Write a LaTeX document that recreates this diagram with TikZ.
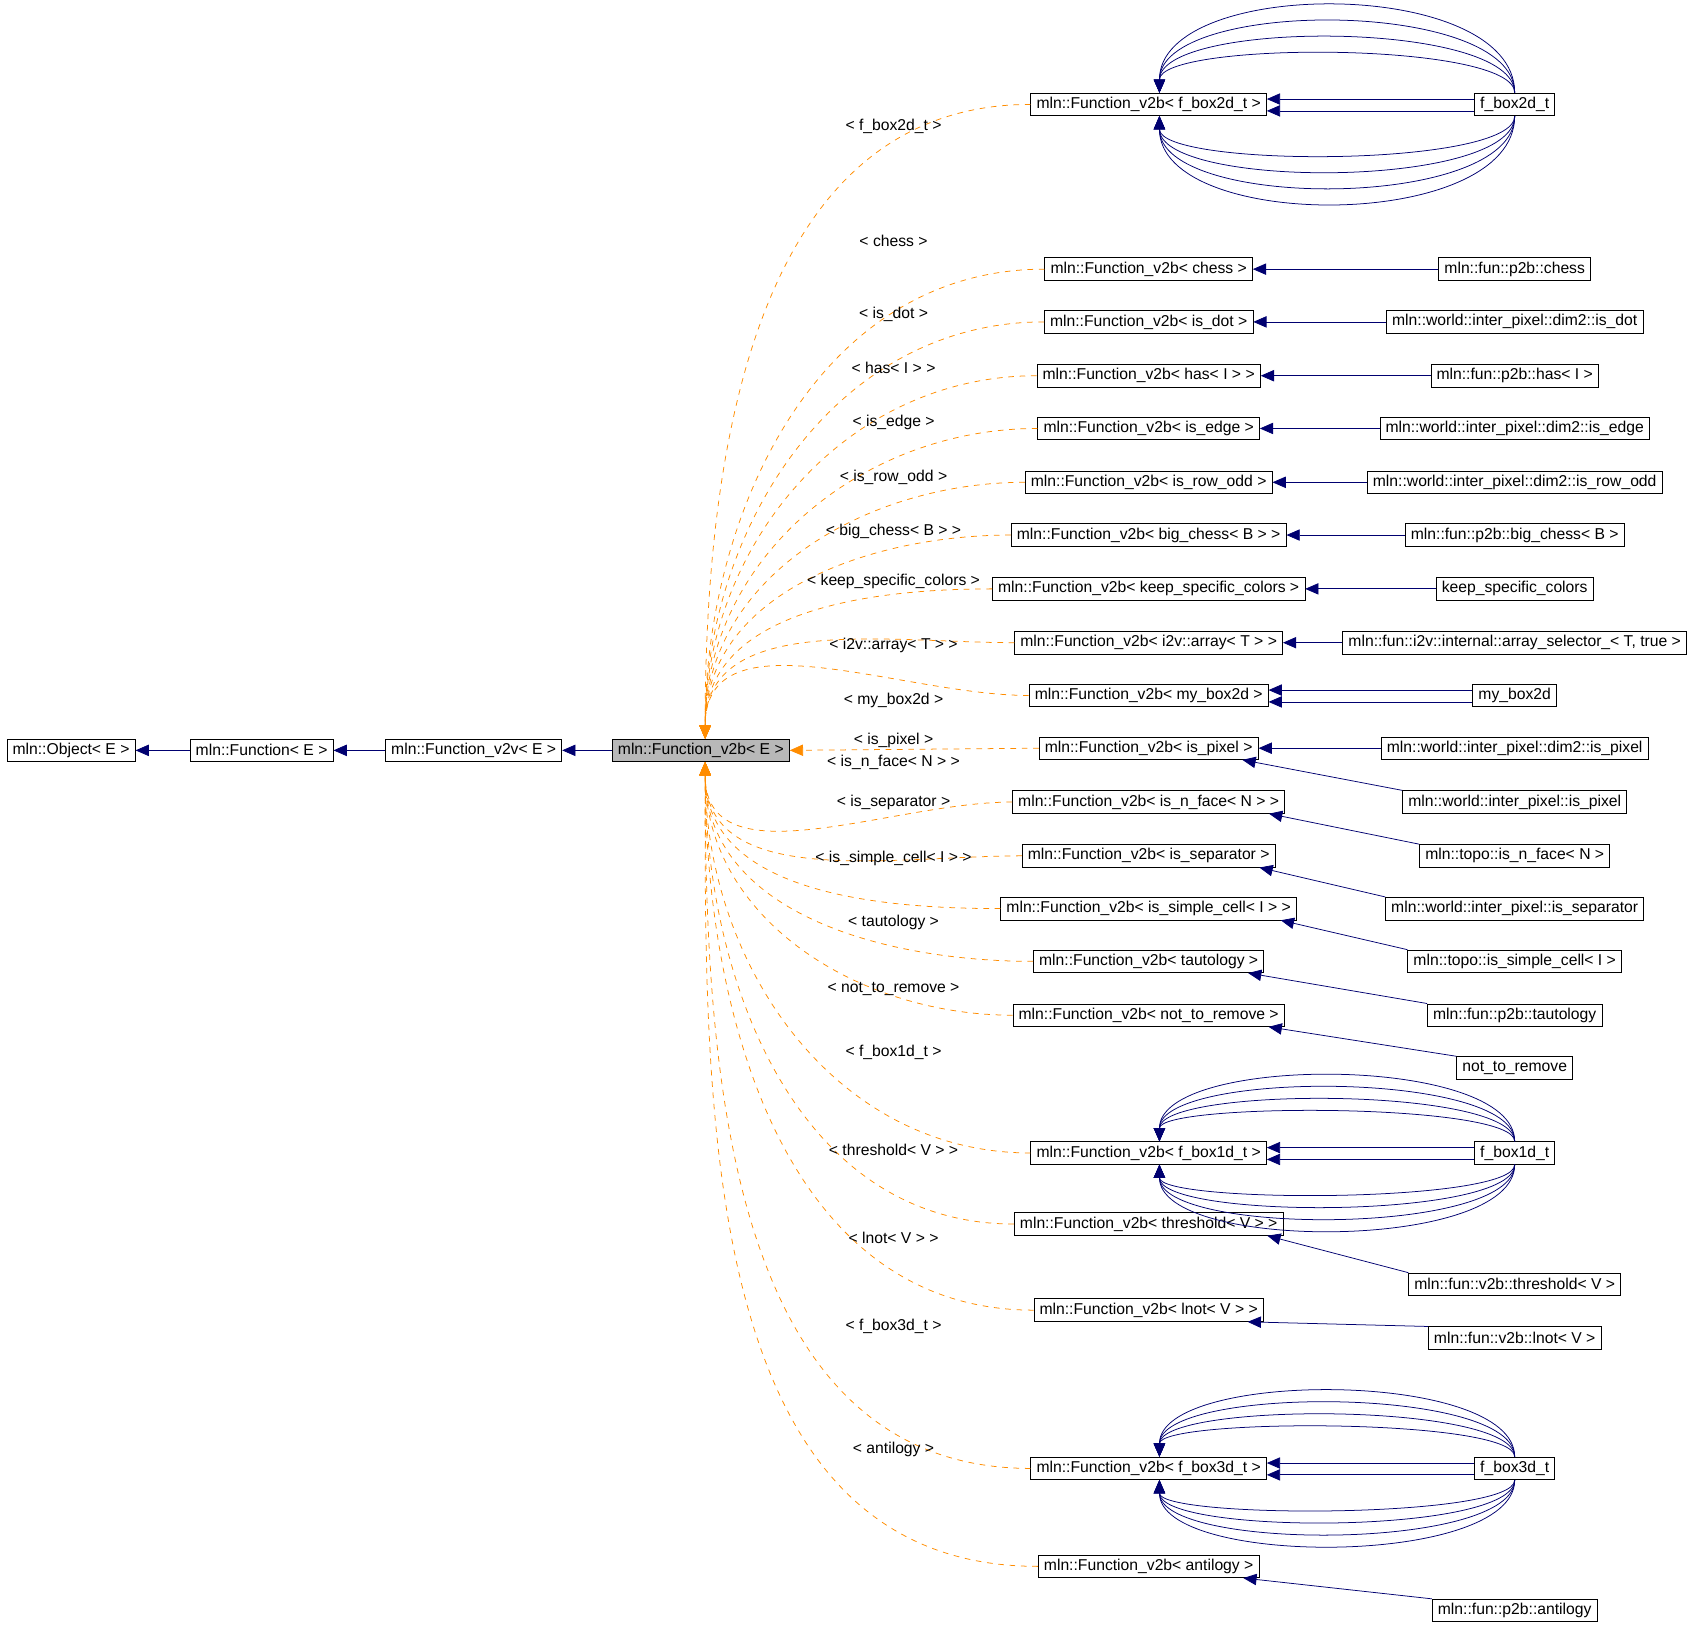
\documentclass[tikz,border=0pt]{standalone}
\usepackage{fontspec}
\setmainfont{Liberation Sans}
\usetikzlibrary{calc, arrows.meta}

\tikzset{
  cls/.style={draw, fill=white, inner xsep=3pt, inner ysep=2pt, minimum height=0.42cm, font=\fontsize{8.3}{9}\selectfont},
  hier/.style={draw=blue!30!black!80!blue, -{Triangle[length=7pt,width=6pt]}},
  dep/.style={draw=orange!90!yellow, dashed, -{Triangle[length=7pt,width=6pt]}},
  lbl/.style={font=\fontsize{8.3}{9}\selectfont}
}

% many parallel/looping edges from a child to its template parent
\newcommand{\multiedge}[3]{
  \draw[hier] ($(#1.west)+(0,-5)$) -- ($(#2.east)+(0,-5)$);
  \draw[hier] ($(#1.west)+(0,6)$) -- ($(#2.east)+(0,6)$);
  \foreach \h in {48,68,88,108} {
    \draw[hier] (#1.north) .. controls ($(#1.north)+(0,-#3*\h)$) and ($(#2.north)+(10,-#3*\h)$) .. ($(#2.north)+(10,0)$);
    \draw[hier] (#1.south) .. controls ($(#1.south)+(0,#3*\h)$) and ($(#2.south)+(10,#3*\h)$) .. ($(#2.south)+(10,0)$);
  }
}

\begin{document}
\begin{tikzpicture}[x=0.02cm, y=-0.02cm]
  \useasboundingbox (0,0) rectangle (1568,1515);

  % left chain
  \node[cls] (obj) at (66,697) {mln::Object< E >};
  \node[cls] (fun) at (243,697) {mln::Function< E >};
  \node[cls] (v2v) at (440,697) {mln::Function\_v2v< E >};
  \node[cls, fill=black!28] (v2b) at (651,697) {mln::Function\_v2b< E >};
  \draw[hier] (fun) -- (obj);
  \draw[hier] (v2v) -- (fun);
  \draw[hier] (v2b) -- (v2v);

  % template instances
  \node[cls] (mBoxTwo)   at (1067,97)   {mln::Function\_v2b< f\_box2d\_t >};
  \node[cls] (mChess)    at (1067,250)  {mln::Function\_v2b< chess >};
  \node[cls] (mDot)      at (1067,299)  {mln::Function\_v2b< is\_dot >};
  \node[cls] (mHas)      at (1067,349)  {mln::Function\_v2b< has< I > >};
  \node[cls] (mEdge)     at (1067,398)  {mln::Function\_v2b< is\_edge >};
  \node[cls] (mRowOdd)   at (1067,448)  {mln::Function\_v2b< is\_row\_odd >};
  \node[cls] (mBigChess) at (1067,497)  {mln::Function\_v2b< big\_chess< B > >};
  \node[cls] (mKeep)     at (1067,547)  {mln::Function\_v2b< keep\_specific\_colors >};
  \node[cls] (mArray)    at (1067,597)  {mln::Function\_v2b< i2v::array< T > >};
  \node[cls] (mMyBox)    at (1067,646)  {mln::Function\_v2b< my\_box2d >};
  \node[cls] (mPixel)    at (1067,695)  {mln::Function\_v2b< is\_pixel >};
  \node[cls] (mNFace)    at (1067,745)  {mln::Function\_v2b< is\_n\_face< N > >};
  \node[cls] (mSep)      at (1067,795)  {mln::Function\_v2b< is\_separator >};
  \node[cls] (mSimple)   at (1067,844)  {mln::Function\_v2b< is\_simple\_cell< I > >};
  \node[cls] (mTauto)    at (1067,893)  {mln::Function\_v2b< tautology >};
  \node[cls] (mNotRem)   at (1067,943)  {mln::Function\_v2b< not\_to\_remove >};
  \node[cls] (mBoxOne)   at (1067,1071) {mln::Function\_v2b< f\_box1d\_t >};
  \node[cls] (mThresh)   at (1067,1137) {mln::Function\_v2b< threshold< V > >};
  \node[cls] (mLnot)     at (1067,1217) {mln::Function\_v2b< lnot< V > >};
  \node[cls] (mBoxThree) at (1067,1364) {mln::Function\_v2b< f\_box3d\_t >};
  \node[cls] (mAnti)     at (1067,1455) {mln::Function\_v2b< antilogy >};

  % concrete classes
  \node[cls] (cBoxTwo)   at (1407,97)   {f\_box2d\_t};
  \node[cls] (cChess)    at (1407,250)  {mln::fun::p2b::chess};
  \node[cls] (cDot)      at (1407,299)  {mln::world::inter\_pixel::dim2::is\_dot};
  \node[cls] (cHas)      at (1407,349)  {mln::fun::p2b::has< I >};
  \node[cls] (cEdge)     at (1407,398)  {mln::world::inter\_pixel::dim2::is\_edge};
  \node[cls] (cRowOdd)   at (1407,448)  {mln::world::inter\_pixel::dim2::is\_row\_odd};
  \node[cls] (cBigChess) at (1407,497)  {mln::fun::p2b::big\_chess< B >};
  \node[cls] (cKeep)     at (1407,547)  {keep\_specific\_colors};
  \node[cls] (cArray)    at (1407,597)  {mln::fun::i2v::internal::array\_selector\_< T, true >};
  \node[cls] (cMyBox)    at (1407,646)  {my\_box2d};
  \node[cls] (cDimPixel) at (1407,695)  {mln::world::inter\_pixel::dim2::is\_pixel};
  \node[cls] (cPixel)    at (1407,745)  {mln::world::inter\_pixel::is\_pixel};
  \node[cls] (cNFace)    at (1407,795)  {mln::topo::is\_n\_face< N >};
  \node[cls] (cSep)      at (1407,844)  {mln::world::inter\_pixel::is\_separator};
  \node[cls] (cSimple)   at (1407,893)  {mln::topo::is\_simple\_cell< I >};
  \node[cls] (cTauto)    at (1407,943)  {mln::fun::p2b::tautology};
  \node[cls] (cNotRem)   at (1407,992)  {not\_to\_remove};
  \node[cls] (cBoxOne)   at (1407,1071) {f\_box1d\_t};
  \node[cls] (cThresh)   at (1407,1193) {mln::fun::v2b::threshold< V >};
  \node[cls] (cLnot)     at (1407,1243) {mln::fun::v2b::lnot< V >};
  \node[cls] (cBoxThree) at (1407,1364) {f\_box3d\_t};
  \node[cls] (cAnti)     at (1407,1496) {mln::fun::p2b::antilogy};

  % inheritance of concrete classes
  \multiedge{cBoxTwo}{mBoxTwo}{1}
  \multiedge{cBoxOne}{mBoxOne}{0.75}
  \multiedge{cBoxThree}{mBoxThree}{0.75}
  \draw[hier] ($(cMyBox.west)+(0,-5)$) -- ($(mMyBox.east)+(0,-5)$);
  \draw[hier] ($(cMyBox.west)+(0,6)$) -- ($(mMyBox.east)+(0,6)$);
  \foreach \c/\m in {cChess/mChess, cDot/mDot, cHas/mHas, cEdge/mEdge, cRowOdd/mRowOdd,
      cBigChess/mBigChess, cKeep/mKeep, cArray/mArray, cDimPixel/mPixel}
    \draw[hier] (\c.west) -- (\m.east);
  \foreach \c/\m in {cPixel/mPixel, cNFace/mNFace, cSep/mSep, cSimple/mSimple, cTauto/mTauto,
      cNotRem/mNotRem, cThresh/mThresh, cLnot/mLnot, cAnti/mAnti}
    \draw[hier] (\c.north west) -- ($(\m.south east)+(-15,0)$);

  % template bindings
  \foreach \m in {mBoxTwo, mChess, mDot, mHas, mEdge, mRowOdd, mBigChess, mKeep, mArray, mMyBox}
    \draw[dep] (\m.west) to[out=180, in=90] ($(v2b.north)+(4,0)$);
  \draw[dep] (mPixel.west) -- (v2b.east);
  \foreach \m in {mNFace, mSep, mSimple, mTauto, mNotRem, mBoxOne, mThresh, mLnot, mBoxThree, mAnti}
    \draw[dep] (\m.west) to[out=180, in=-90] ($(v2b.south)+(4,0)$);

  % binding labels
  \node[lbl] (lBoxTwo)   at (830,117)  {< f\_box2d\_t >};
  \node[lbl] (lChess)    at (830,224)  {< chess >};
  \node[lbl] (lDot)      at (830,292)  {< is\_dot >};
  \node[lbl] (lHas)      at (830,342)  {< has< I > >};
  \node[lbl] (lEdge)     at (830,392)  {< is\_edge >};
  \node[lbl] (lRowOdd)   at (830,443)  {< is\_row\_odd >};
  \node[lbl] (lBigChess) at (830,494)  {< big\_chess< B > >};
  \node[lbl] (lKeep)     at (830,540)  {< keep\_specific\_colors >};
  \node[lbl] (lArray)    at (830,600)  {< i2v::array< T > >};
  \node[lbl] (lMyBox)    at (830,651)  {< my\_box2d >};
  \node[lbl] (lPixel)    at (830,688)  {< is\_pixel >};
  \node[lbl] (lNFace)    at (830,708)  {< is\_n\_face< N > >};
  \node[lbl] (lSep)      at (830,745)  {< is\_separator >};
  \node[lbl] (lSimple)   at (830,797)  {< is\_simple\_cell< I > >};
  \node[lbl] (lTauto)    at (830,857)  {< tautology >};
  \node[lbl] (lNotRem)   at (830,919)  {< not\_to\_remove >};
  \node[lbl] (lBoxOne)   at (830,978)  {< f\_box1d\_t >};
  \node[lbl] (lThresh)   at (830,1068) {< threshold< V > >};
  \node[lbl] (lLnot)     at (830,1150) {< lnot< V > >};
  \node[lbl] (lBoxThree) at (830,1232) {< f\_box3d\_t >};
  \node[lbl] (lAnti)     at (830,1346) {< antilogy >};
\end{tikzpicture}
\end{document}
